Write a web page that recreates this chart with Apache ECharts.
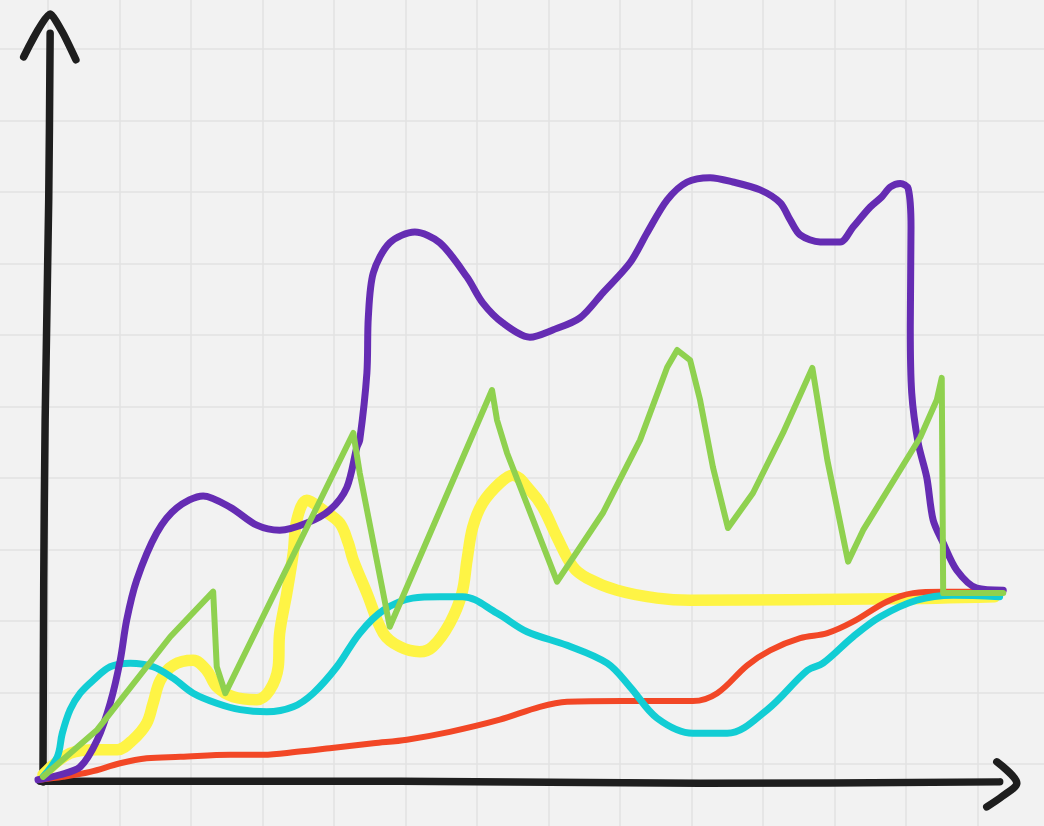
<!DOCTYPE html>
<html>
<head>
<meta charset="utf-8">
<script src="https://cdn.jsdelivr.net/npm/echarts@6/dist/echarts.min.js"></script>
<style>
html,body{margin:0;padding:0;background:#f2f2f2;}
#c{width:1044px;height:826px;}
</style>
</head>
<body>
<div id="c"></div>
<script>
// Hand-drawn chart: units = grid cells
const purple = [[-0.14,-0.22],[0.17,-0.15],[0.45,-0.04],[0.69,0.34],[0.87,0.85],[1.01,1.45],[1.10,2.01],[1.24,2.57],[1.52,3.23],[1.80,3.58],[2.17,3.75],[2.55,3.59],[2.92,3.34],[3.24,3.27],[3.62,3.37],[3.94,3.55],[4.18,3.87],[4.32,4.43],[4.36,4.53],[4.46,5.47],[4.48,6.25],[4.55,6.87],[4.78,7.29],[5.13,7.44],[5.48,7.29],[5.86,6.81],[6.08,6.45],[6.36,6.17],[6.74,5.97],[7.06,6.07],[7.44,6.24],[7.76,6.59],[8.14,7.01],[8.38,7.43],[8.66,7.89],[8.94,8.14],[9.26,8.20],[9.58,8.14],[9.96,8.03],[10.24,7.85],[10.38,7.61],[10.52,7.40],[10.80,7.30],[11.08,7.30],[11.26,7.51],[11.50,7.79],[11.66,7.93],[11.78,8.07],[11.92,8.12],[12.03,8.05],[12.07,7.51],[12.06,6.11],[12.08,5.19],[12.17,4.49],[12.29,4.01],[12.38,3.41],[12.52,3.09],[12.71,2.71],[12.99,2.46],[13.36,2.43]];
const green = [[-0.07,-0.18],[0.69,0.48],[1.71,1.78],[2.31,2.41],[2.34,1.78],[2.36,1.36],[2.48,0.99],[4.27,4.63],[4.36,4.07],[4.78,1.92],[6.21,5.23],[6.28,4.81],[6.42,4.35],[7.12,2.55],[7.76,3.51],[8.28,4.53],[8.66,5.55],[8.80,5.79],[8.98,5.65],[9.12,5.09],[9.30,4.15],[9.51,3.30],[9.86,3.79],[10.28,4.63],[10.69,5.54],[10.90,4.25],[11.19,2.83],[11.40,3.27],[12.20,4.57],[12.43,5.09],[12.50,5.40],[12.52,2.39],[13.36,2.39]];
const yellow = [[-0.07,-0.15],[0.31,0.15],[0.69,0.20],[0.97,0.20],[1.19,0.34],[1.38,0.57],[1.47,0.85],[1.57,1.17],[1.75,1.38],[2.03,1.45],[2.22,1.31],[2.36,1.08],[2.59,0.94],[2.92,0.90],[3.10,1.03],[3.22,1.36],[3.24,1.83],[3.34,2.39],[3.43,2.95],[3.48,3.41],[3.62,3.69],[3.85,3.55],[4.08,3.37],[4.20,3.09],[4.27,2.85],[4.46,2.39],[4.69,1.83],[4.92,1.64],[5.20,1.57],[5.38,1.64],[5.62,1.97],[5.79,2.39],[5.86,2.85],[5.94,3.31],[6.08,3.65],[6.32,3.93],[6.50,4.04],[6.74,3.83],[6.92,3.59],[7.12,3.17],[7.34,2.76],[7.54,2.60],[7.96,2.43],[8.52,2.32],[8.98,2.29],[11.82,2.31],[13.24,2.34]];
const cyan = [[-0.07,-0.18],[0.13,0.10],[0.20,0.43],[0.31,0.76],[0.45,0.99],[0.63,1.17],[0.87,1.36],[1.15,1.41],[1.47,1.36],[1.75,1.20],[2.03,0.99],[2.36,0.85],[2.69,0.76],[3.06,0.73],[3.43,0.80],[3.71,0.99],[4.04,1.36],[4.36,1.83],[4.69,2.15],[5.10,2.32],[5.48,2.34],[5.80,2.34],[6.28,2.11],[6.70,1.85],[7.26,1.66],[7.82,1.41],[8.14,1.08],[8.52,0.64],[9.02,0.43],[9.50,0.43],[10.06,0.76],[10.62,1.31],[10.84,1.41],[11.26,1.78],[11.64,2.06],[12.15,2.29],[12.66,2.36],[13.31,2.34]];
const red = [[-0.11,-0.22],[0.21,-0.18],[0.59,-0.11],[1.01,0.01],[1.38,0.08],[1.85,0.10],[2.55,0.13],[3.01,0.13],[3.48,0.17],[3.94,0.22],[4.55,0.29],[5.02,0.34],[5.62,0.45],[6.32,0.62],[6.88,0.80],[7.26,0.87],[8.04,0.88],[9.02,0.88],[9.36,0.99],[9.78,1.38],[10.10,1.59],[10.52,1.76],[10.90,1.83],[11.26,1.99],[11.73,2.27],[12.10,2.39],[12.52,2.41],[13.22,2.41]];
const yAxisStroke = [[-0.07,-0.25],[-0.06,2.5],[-0.04,4.81],[0.01,7.89],[0.03,10.22]];
const yArrow = [[-0.34,9.89],[0.03,10.49],[0.21,10.22],[0.39,9.85]];
const xAxisStroke = [[-0.11,-0.24],[4.92,-0.24],[9.12,-0.27],[13.31,-0.25]];
const xArrow = [[13.27,0.03],[13.55,-0.27],[13.35,-0.45],[13.13,-0.60]];
const xRange = [-1, 14];
const yRange = [-1, 11];

const C = {purple:'#652cb3', green:'#8fd14f', yellow:'#fef445', cyan:'#12cdd4', red:'#f24726', ink:'#1e1e1e'};

function stroke(data, color, width, smooth, z){
  return {type:'line', data:data, symbol:'none', clip:false, smooth:smooth, z:z,
    lineStyle:{color:color, width:width, cap:'round', join:'round'}, silent:true, animation:false};
}

const chart = echarts.init(document.getElementById('c'), null, {renderer:'canvas'});
chart.setOption({
  backgroundColor:'#f2f2f2',
  animation:false,
  grid:{left:-23.5, right:-5, top:-22.5, bottom:-9.5, outerBoundsMode:'none', containLabel:false},
  xAxis:{type:'value', min:xRange[0], max:xRange[1], interval:1,
    axisLine:{show:false}, axisTick:{show:false}, axisLabel:{show:false},
    splitLine:{show:true, lineStyle:{color:'#e2e2e2', width:1.5}}},
  yAxis:{type:'value', min:yRange[0], max:yRange[1], interval:1,
    axisLine:{show:false}, axisTick:{show:false}, axisLabel:{show:false},
    splitLine:{show:true, lineStyle:{color:'#e2e2e2', width:1.5}}},
  series:[
    stroke(yAxisStroke, C.ink, 7.5, 0.3, 1),
    stroke(yArrow, C.ink, 7.5, 0.2, 1),
    stroke(xAxisStroke, C.ink, 7.5, 0.3, 1),
    stroke(xArrow, C.ink, 7.5, 0.3, 1),
    stroke(yellow, C.yellow, 11.5, 0.35, 2),
    stroke(red, C.red, 6, 0.35, 3),
    stroke(cyan, C.cyan, 7, 0.35, 4),
    stroke(purple, C.purple, 7, 0.3, 5),
    stroke(green, C.green, 6, false, 6)
  ]
});
</script>
</body>
</html>
